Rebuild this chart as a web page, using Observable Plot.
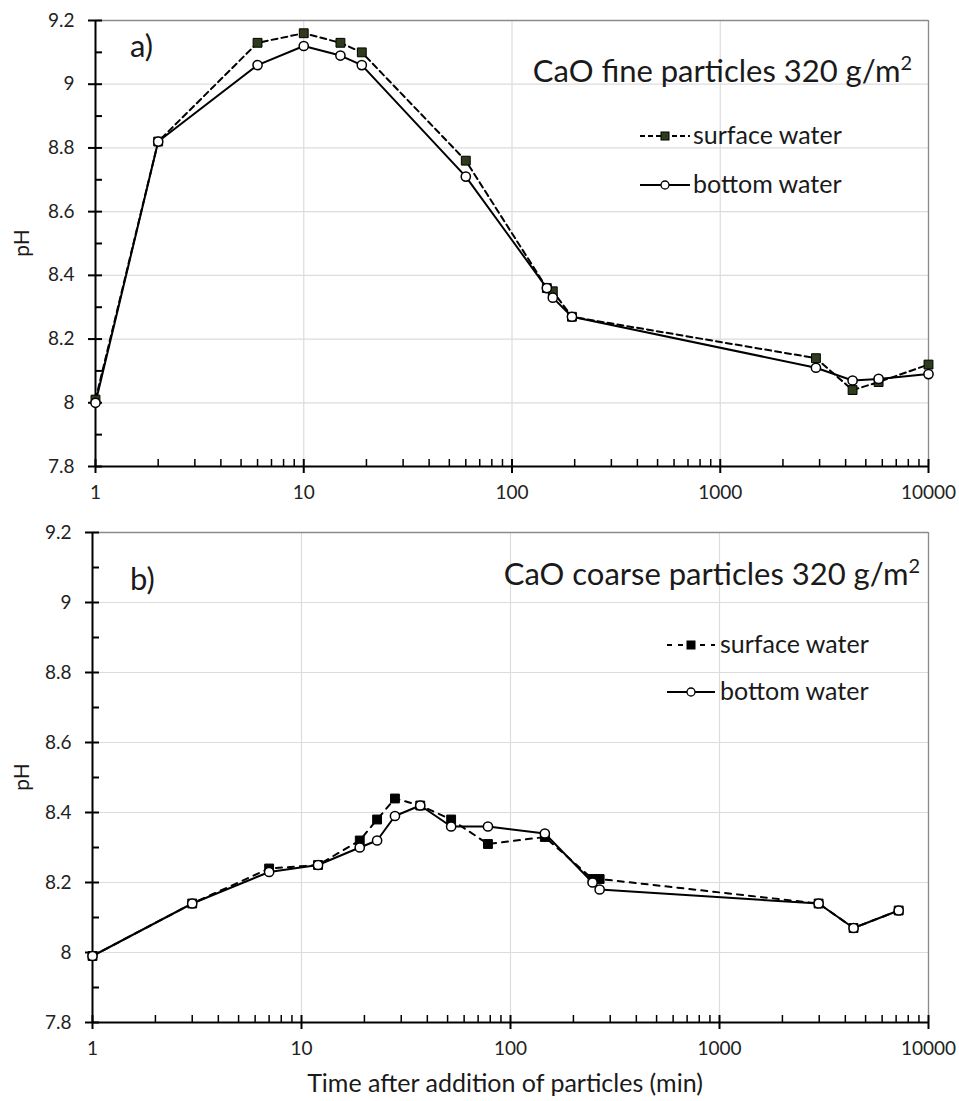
<!DOCTYPE html>
<html><head><meta charset="utf-8">
<script src="https://cdn.jsdelivr.net/npm/d3@7"></script>
<script src="https://cdn.jsdelivr.net/npm/@observablehq/plot@0.6"></script>
<style>
body{margin:0;background:#fff;font-family:Lato,"Open Sans",sans-serif;}
#wrap{position:relative;width:959px;height:1101px;overflow:hidden;background:#fff}
#wrap > svg{position:absolute;left:0}
</style></head><body><div id="wrap"></div>
<script>
// ---- data: panel a) CaO fine particles ----
const timeA = [1, 2, 6, 10, 15, 19, 60, 147, 157, 194, 2880, 4320, 5760, 10000];
const surfaceA = [8.01, 8.82, 9.13, 9.16, 9.13, 9.10, 8.76, 8.36, 8.35, 8.27, 8.14, 8.04, 8.065, 8.12];
const bottomA  = [8.00, 8.82, 9.06, 9.12, 9.09, 9.06, 8.71, 8.36, 8.33, 8.27, 8.11, 8.07, 8.075, 8.09];
// ---- data: panel b) CaO coarse particles ----
const timeB = [1, 3, 7, 12, 19, 23, 28, 37, 52, 78, 146, 247, 267, 2980, 4380, 7200];
const surfaceB = [7.99, 8.14, 8.24, 8.25, 8.32, 8.38, 8.44, 8.42, 8.38, 8.31, 8.33, 8.21, 8.21, 8.14, 8.07, 8.12];
const bottomB  = [7.99, 8.14, 8.23, 8.25, 8.30, 8.32, 8.39, 8.42, 8.36, 8.36, 8.34, 8.20, 8.18, 8.14, 8.07, 8.12];
// ---- ticks ----
const yMajor = [7.8, 8.0, 8.2, 8.4, 8.6, 8.8, 9.0, 9.2];
const yMinor = [7.9, 8.1, 8.3, 8.5, 8.7, 8.9, 9.1];
const xMajor = [1, 10, 100, 1000, 10000];
const xMinorMult = [2, 3, 4, 5, 6, 7, 8, 9];
const xMinor = [1, 10, 100, 1000].flatMap(d => xMinorMult.map(m => d * m));
const panelTitles = ["CaO fine particles 320 g/m", "CaO coarse particles 320 g/m"];
const panelLetters = ["a)", "b)"];
const seriesNames = ["surface water", "bottom water"];
const xTitle = "Time after addition of particles (min)";
const yTitle = "pH";

const W = 959;
function panel(time, surf, bot, cfg) {
  const rowsS = time.map((t, i) => ({t, v: surf[i]}));
  const rowsB = time.map((t, i) => ({t, v: bot[i]}));
  const plotW = W - cfg.ml - cfg.mr;
  const plotH = cfg.h - cfg.mt - cfg.mb;
  return Plot.plot({
    width: W, height: cfg.h,
    marginLeft: cfg.ml, marginRight: cfg.mr, marginTop: cfg.mt, marginBottom: cfg.mb,
    style: {fontFamily: "Lato, 'Open Sans', sans-serif", fontSize: "18px", color: "#222", background: "white", overflow: "visible"},
    x: {type: "log", domain: [1, 10000]},
    y: {domain: [7.8, 9.2]},
    marks: [
      Plot.gridY(yMajor, {stroke: "#dcdcdc", strokeOpacity: 1, strokeWidth: 1.2}),
      Plot.gridX(xMajor, {stroke: "#dcdcdc", strokeOpacity: 1, strokeWidth: 1.2}),
      Plot.ruleY([9.2], {stroke: "#8a8a8a", strokeWidth: 1.3}),
      Plot.ruleX([10000], {stroke: "#8a8a8a", strokeWidth: 1.3}),
      Plot.ruleX([1], {stroke: "black", strokeWidth: 2}),
      Plot.ruleY([7.8], {stroke: "black", strokeWidth: 2}),
      Plot.tickY(yMajor, {y: d => d, insetLeft: -7, insetRight: plotW - 7, stroke: "black", strokeWidth: 2}),
      Plot.tickY(yMinor, {y: d => d, insetLeft: 0, insetRight: plotW - 7, stroke: "black", strokeWidth: 2}),
      Plot.tickX(xMajor, {x: d => d, insetTop: plotH - 7, insetBottom: -7, stroke: "black", strokeWidth: 2}),
      Plot.tickX(xMinor, {x: d => d, insetTop: plotH - 7, insetBottom: 0, stroke: "black", strokeWidth: 1.5}),
      Plot.axisY({ticks: yMajor, tickSize: 0, tickPadding: 21, fontSize: 19, label: null, tickFormat: d => String(+d.toFixed(1))}),
      Plot.axisX({ticks: xMajor, tickSize: 0, tickPadding: 19, fontSize: 19, label: null, tickFormat: d3.format("d")}),
      Plot.line(rowsS, {x: "t", y: "v", stroke: "black", strokeWidth: 2, strokeDasharray: cfg.dash}),
      Plot.line(rowsB, {x: "t", y: "v", stroke: "black", strokeWidth: 2}),
      Plot.dot(rowsS, {x: "t", y: "v", symbol: "square", r: 5, fill: cfg.sqFill, stroke: "black", strokeWidth: 1}),
      Plot.dot(rowsB, {x: "t", y: "v", symbol: "circle", r: 4.6, fill: "white", stroke: "black", strokeWidth: 1.5})
    ]
  });
}

const wrap = document.getElementById("wrap");
const p1 = panel(timeA, surfaceA, bottomA, {h: 515, ml: 95, mr: 31, mt: 20, mb: 49, dash: "6,4", sqFill: "#2f3b1d"});
p1.style.top = "0px";
wrap.appendChild(p1);
const p2 = panel(timeB, surfaceB, bottomB, {h: 545, ml: 92, mr: 31, mt: 17, mb: 38, dash: "6,6", sqFill: "black"});
p2.style.top = "515px";
wrap.appendChild(p2);

// ---- annotation overlay ----
const ov = d3.select(wrap).append("svg").attr("width", W).attr("height", 1101)
  .style("top", "0px").style("pointer-events", "none")
  .style("font-family", "Lato, 'Open Sans', sans-serif").style("fill", "#1a1a1a");

function titleText(x, y, str) {
  const t = ov.append("text").attr("x", x).attr("y", y).attr("text-anchor", "end").attr("font-size", 31);
  t.append("tspan").text(str);
  t.append("tspan").attr("dy", -12).attr("font-size", 20).text("2");
}
titleText(912, 82, panelTitles[0]);
titleText(920, 585, panelTitles[1]);

ov.append("text").attr("x", 130).attr("y", 57).attr("font-size", 31).text(panelLetters[0]);
ov.append("text").attr("x", 130).attr("y", 590).attr("font-size", 31).text(panelLetters[1]);

function legend(x0, x1, tx, ySurf, yBot, dash, sqFill) {
  ov.append("line").attr("x1", x0).attr("x2", x1).attr("y1", ySurf).attr("y2", ySurf)
    .attr("stroke", "black").attr("stroke-width", 2).attr("stroke-dasharray", dash);
  const cx = (x0 + x1) / 2;
  ov.append("rect").attr("x", cx - 4).attr("y", ySurf - 4).attr("width", 8).attr("height", 8)
    .attr("fill", sqFill).attr("stroke", "black").attr("stroke-width", 1);
  ov.append("text").attr("x", tx).attr("y", ySurf + 8).attr("font-size", 25).text(seriesNames[0]);
  ov.append("line").attr("x1", x0).attr("x2", x1).attr("y1", yBot).attr("y2", yBot)
    .attr("stroke", "black").attr("stroke-width", 2);
  ov.append("circle").attr("cx", cx).attr("cy", yBot).attr("r", 4).attr("fill", "white")
    .attr("stroke", "black").attr("stroke-width", 1.3);
  ov.append("text").attr("x", tx).attr("y", yBot + 8).attr("font-size", 25).text(seriesNames[1]);
}
legend(640, 690, 693, 136, 185, "5,3", "#2f3b1d");
legend(667, 715, 720, 645, 692, "5,6", "black");

function ylab(cy) {
  ov.append("text").attr("transform", `translate(29,${cy}) rotate(-90)`).attr("text-anchor", "middle")
    .attr("font-size", 21).text(yTitle);
}
ylab(243); ylab(777);
ov.append("text").attr("x", 505).attr("y", 1092).attr("text-anchor", "middle").attr("font-size", 25).text(xTitle);
</script></body></html>
